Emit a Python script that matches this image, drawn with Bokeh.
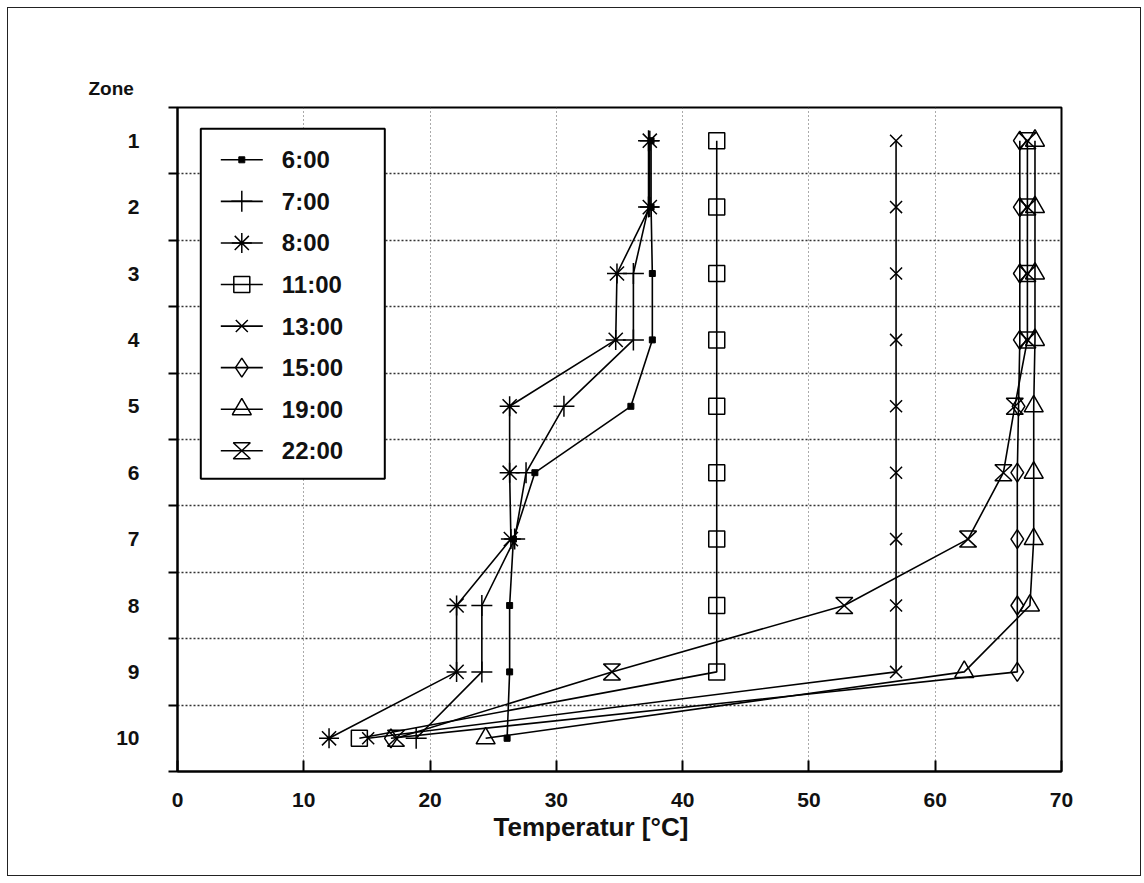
from bokeh.plotting import figure
from bokeh.models import Range1d, FixedTicker, Title
from bokeh.embed import file_html
from bokeh.resources import INLINE
from bokeh.core.properties import value

# ---------------- data ----------------
zones = [1, 2, 3, 4, 5, 6, 7, 8, 9, 10]
labels = ["6:00", "7:00", "8:00", "11:00", "13:00", "15:00", "19:00", "22:00"]
t0600 = [37.5, 37.5, 37.6, 37.6, 35.9, 28.3, 26.6, 26.3, 26.3, 26.1]
t0700 = [37.3, 37.3, 36.1, 36.1, 30.6, 27.6, 26.7, 24.1, 24.1, 18.9]
t0800 = [37.4, 37.4, 34.8, 34.7, 26.3, 26.3, 26.4, 22.1, 22.1, 12.0]
t1100 = [42.7, 42.7, 42.7, 42.7, 42.7, 42.7, 42.7, 42.7, 42.7, 14.4]
t1300 = [56.9, 56.9, 56.9, 56.9, 56.9, 56.9, 56.9, 56.9, 56.9, 15.1]
t1500 = [66.7, 66.7, 66.7, 66.7, 66.6, 66.5, 66.5, 66.5, 66.5, 16.9]
t1900 = [67.9, 67.9, 67.9, 67.9, 67.8, 67.8, 67.8, 67.5, 62.3, 24.4]
t2200 = [67.3, 67.3, 67.3, 67.3, 66.3, 65.4, 62.6, 52.8, 34.4, 17.3]
x_ticks = [0, 10, 20, 30, 40, 50, 60, 70]
x_title = "Temperatur [°C]"
y_title = "Zone"

series = [t0600, t0700, t0800, t1100, t1300, t1500, t1900, t2200]

# ---------------- styles ----------------
FONT_NAME = "Liberation Sans"
FONT = value(FONT_NAME)
FW, FH = 884, 664
XMIN, XMAX = 0, 70
YMIN, YMAX = 0.5, 10.5
markers = [
    dict(marker="square", size=6, fill_color="black", line_width=1),
    dict(marker="cross", size=21, fill_color=None, line_width=1.5),
    dict(marker="asterisk", size=20, fill_color=None, line_width=1.5),
    dict(marker="square", size=16, fill_color=None, line_width=1.5),
    dict(marker="x", size=17, fill_color=None, line_width=1.5),
    dict(marker="diamond", size=19, fill_color=None, line_width=1.5),
    dict(marker="triangle", size=19, fill_color=None, line_width=1.5),
    None,  # hourglass, drawn as patches
]
HG_W, HG_H = 8.5, 8.0  # hourglass half-size in px

p = figure(frame_width=FW, frame_height=FH,
           x_range=Range1d(XMIN, XMAX), y_range=Range1d(YMAX, YMIN),
           output_backend="svg", toolbar_location=None,
           min_border_left=169, min_border_top=99,
           min_border_right=79, min_border_bottom=104,
           background_fill_color="white", border_fill_color="white")
p.styles = {"border": "1px solid #222", "margin-left": "7px", "margin-top": "7px"}
p.extra_x_ranges = {"px": Range1d(0, FW)}
p.extra_y_ranges = {"py": Range1d(FH, 0)}

p.outline_line_color = "black"
p.outline_line_width = 2

# "Zone" header as title at the top-left
p.title.text = y_title
p.title.align = "left"
p.title.offset = -89
p.title.text_font = FONT_NAME
p.title.text_font_style = "bold"
p.title.text_font_size = "19px"
p.title.text_color = "#111"
p.title.standoff = 17

# x axis
p.xaxis.ticker = FixedTicker(ticks=x_ticks)
p.xaxis.major_tick_in = 11
p.xaxis.major_tick_out = 0
p.xaxis.minor_tick_in = 0
p.xaxis.minor_tick_out = 0
p.xaxis.major_label_standoff = 21

# x-axis title (slightly left of centre, as in the original)
p.add_layout(Title(text=x_title, align="left", offset=316, standoff=4,
                   vertical_align="top", text_font=FONT_NAME,
                   text_font_style="bold", text_font_size="26px",
                   text_color="#111"), "below")

# y axis
half = [z - 0.5 for z in zones] + [zones[-1] + 0.5]
p.yaxis.ticker = FixedTicker(ticks=zones, minor_ticks=half)
p.yaxis.major_tick_in = 0
p.yaxis.major_tick_out = 0
p.yaxis.minor_tick_in = 0
p.yaxis.minor_tick_out = 9
p.yaxis.major_label_standoff = 29

for ax in (p.xaxis, p.yaxis):
    ax.axis_line_color = "black"
    ax.axis_line_width = 2
    ax.major_tick_line_color = "black"
    ax.major_tick_line_width = 2
    ax.minor_tick_line_color = "black"
    ax.minor_tick_line_width = 2
    ax.major_label_text_font = FONT_NAME
    ax.major_label_text_font_style = "bold"
    ax.major_label_text_font_size = "21px"
    ax.major_label_text_color = "#111"

# grids
p.xgrid.ticker = FixedTicker(ticks=x_ticks[1:-1])
p.xgrid.grid_line_color = "#555"
p.xgrid.grid_line_dash = "1 3"
p.xgrid.grid_line_width = 1
p.ygrid.ticker = FixedTicker(ticks=half[1:-1])
p.ygrid.grid_line_color = "#333"
p.ygrid.grid_line_dash = "2 2"
p.ygrid.grid_line_width = 1.3

# hourglass helper (data units)
dxu = HG_W * (XMAX - XMIN) / FW
dyu = HG_H * (YMAX - YMIN) / FH

for vals, mk in zip(series, markers):
    p.line(vals, zones, line_color="black", line_width=1.6)
    if mk is None:
        xs = [[x - dxu, x + dxu, x - dxu, x + dxu] for x in vals]
        ys = [[z - dyu, z - dyu, z + dyu, z + dyu] for z in zones]
        p.patches(xs, ys, fill_color=None, line_color="black", line_width=1.5)
    else:
        p.scatter(vals, zones, line_color="black", **mk)

# ---------------- legend (drawn in frame pixel space) ----------------
LB_L, LB_R, LB_T, LB_B = 23.3, 207.3, 21.3, 371.3
LEG_Y0, LEG_STEP = 52.3, 41.57
LINE_X0, LINE_X1, MK_X, TXT_X = 43.3, 85.3, 64.3, 104.3
p.quad(left=[LB_L], right=[LB_R], top=[LB_T], bottom=[LB_B],
       x_range_name="px", y_range_name="py",
       fill_color="white", line_color="black", line_width=2)
leg_y = [LEG_Y0 + i * LEG_STEP for i in range(len(labels))]
for yy, mk in zip(leg_y, markers):
    p.line([LINE_X0, LINE_X1], [yy, yy], x_range_name="px", y_range_name="py",
           line_color="black", line_width=1.6)
    if mk is None:
        p.patches([[MK_X - HG_W, MK_X + HG_W, MK_X - HG_W, MK_X + HG_W]],
                  [[yy - HG_H, yy - HG_H, yy + HG_H, yy + HG_H]],
                  x_range_name="px", y_range_name="py",
                  fill_color=None, line_color="black", line_width=1.5)
    else:
        p.scatter([MK_X], [yy], x_range_name="px", y_range_name="py",
                  line_color="black", **mk)
p.text(x=[TXT_X] * len(labels), y=leg_y, text=labels,
       x_range_name="px", y_range_name="py",
       text_font=FONT, text_font_style="bold", text_font_size="24px",
       text_baseline="middle", text_align="left", text_color="#111")

open("out.html", "w").write(file_html(p, INLINE))
